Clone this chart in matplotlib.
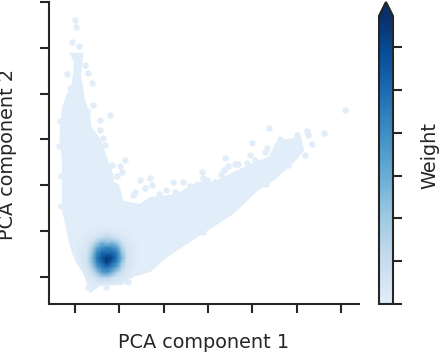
import numpy as np
import matplotlib
matplotlib.use("Agg")
import matplotlib.pyplot as plt
from matplotlib.colors import LinearSegmentedColormap, Normalize
from matplotlib.cm import ScalarMappable
from matplotlib.patches import Polygon

# Outline of the low-weight region, in PCA units
region_x = [.34,.56,1.06,1.31,1.69,2.08,2.60,3.05,3.57,4.11,4.47,4.92,5.15,5.08,4.79,4.56,4.40,3.88,3.50,3.12,2.75,2.30,1.69,1.47,1.08,.97,.86,.84,.68,.56,.34,.32,.20,.18,.11,.16,-.09,0,-.02,-.07,-.16,-.27,-.32,-.32,-.27,-.27,-.27,-.16,-.09,.02,.23,.29]
region_y = [-.33,-.17,-.15,.02,.13,.46,.79,1.07,1.40,1.90,2.12,2.51,2.77,3.03,2.99,2.93,2.62,2.40,2.23,2.05,2.05,1.79,1.72,1.57,1.64,2.01,2.05,2.23,2.66,2.99,3.28,3.54,3.86,4.0,4.41,4.87,4.87,4.69,4.41,4.13,4.0,3.69,3.28,2.99,2.55,2.01,1.46,.98,.66,.37,.04,-.13]

# Isolated low-weight bins and bumps on the edge of the region
outlier_x = [0,.02,-.07,.09,-.18,.29,.38,-.11,.79,.56,.41,.56,.63,.68,.84,1.13,1.06,1.47,1.69,1.74,2.21,2.44,1.58,1.35,2.26,6.09,4.38,5.62,5.24,5.26,5.01,5.35,5.19,4.0,4.33,4.29,3.95,3.39,3.68,3.45,3.36,2.87,2.98,4.81,3.88,3.16,
             .22,.10,-.33,-.36,-.32,-.31,.27,.37,.95,1.02,1.30,1.90,2.05,2.60,2.90,3.30,3.62,4.06,4.62,4.95,2.90,3.45,4.30,.30,.70,1.20]
outlier_y = [5.61,5.46,5.13,5.04,4.43,4.45,4.24,4.13,3.54,3.43,3.76,3.21,3.03,2.88,2.45,2.55,2.29,2.12,2.16,2.01,2.07,2.07,1.94,1.86,1.86,3.65,3.25,3.14,3.19,3.10,3.10,2.90,2.66,2.93,2.82,2.73,2.66,2.60,2.47,2.42,2.34,2.29,2.12,2.45,2.49,2.07,
             4.62,4.78,3.40,2.85,2.20,1.55,3.62,3.10,2.20,2.42,1.78,1.82,1.90,1.98,2.16,2.24,2.46,2.55,3.02,2.92,.98,1.42,2.02,-.22,-.22,-.12]

# Weight around the dense core
blob_x = [.05,.16,.27,.38,.50,.61,.72,.84,.95,1.06,1.17,1.29,1.40]
blob_y = [1.07,.96,.85,.74,.63,.52,.41,.31,.20,.09,-.02,-.13,-.24]
blob_w = [
 [0,0,0,.01,.01,.02,.02,.02,.01,.01,0,0,0],
 [0,.01,.01,.02,.03,.05,.06,.05,.03,.02,.01,.01,0],
 [.01,.01,.03,.05,.10,.16,.20,.15,.09,.05,.03,.01,0],
 [.01,.02,.05,.12,.28,.42,.34,.40,.30,.12,.05,.02,.01],
 [.01,.03,.07,.20,.48,.58,.66,.60,.50,.24,.07,.03,.01],
 [.01,.04,.08,.30,.62,.76,.74,.76,.66,.32,.08,.03,.01],
 [.01,.04,.09,.36,.68,.84,.98,.88,.68,.40,.09,.03,.01],
 [.01,.04,.08,.32,.64,.76,.94,.74,.62,.30,.08,.03,.01],
 [.01,.03,.07,.22,.50,.64,.70,.60,.44,.20,.06,.02,.01],
 [0,.02,.05,.12,.30,.50,.54,.40,.22,.10,.04,.01,0],
 [0,.01,.03,.06,.12,.18,.18,.12,.07,.04,.02,0,0],
 [0,0,.01,.02,.04,.05,.05,.04,.02,.01,.01,0,0],
 [0,0,0,0,.01,.01,.01,.01,0,0,0,0,0],
]

x_ticks = [0, 1, 2, 3, 4, 5, 6]
y_ticks = [0, 1, 2, 3, 4, 5, 6]
cbar_ticks = [0, .149, .298, .446, .595, .744, .893]

INK = "#262626"
W, H = 442, 352
plt.rcParams["font.family"] = "DejaVu Sans"
base = plt.get_cmap("Blues")
cmap = LinearSegmentedColormap.from_list("b", base(np.linspace(.11, 1, 256)))
norm = Normalize(0, 1)
light = cmap(0.0)

fig = plt.figure(figsize=(W/100, H/100), dpi=100)
ax = fig.add_axes([49/W, (H-304)/H, 310/W, 302/H])
poly = Polygon(np.column_stack([region_x, region_y]), closed=True, fc=light, ec=light, lw=1.5, zorder=1)
ax.add_patch(poly)
ax.scatter(outlier_x, outlier_y, s=26, marker="h", color=light, lw=0, zorder=1)
mesh = ax.pcolormesh(blob_x, blob_y, np.array(blob_w), cmap=cmap, norm=norm, shading="gouraud", zorder=2)
mesh.set_clip_path(poly)

ax.set_xlim(-.587, 6.41)
ax.set_ylim(-.59, 6.0)
ax.set_xticks(x_ticks)
ax.set_yticks(y_ticks)
ax.set_xticklabels([])
ax.set_yticklabels([])
for s in ("top", "right"):
    ax.spines[s].set_visible(False)
for s in ("left", "bottom"):
    ax.spines[s].set_linewidth(1.5)
    ax.spines[s].set_color(INK)
ax.tick_params(length=6.5, width=1.5, color=INK)
fig.text(204/W, 1-342/H, "PCA component 1", fontsize=13.9, color=INK, ha="center", va="center")
fig.text(8/W, 1-154/H, "PCA component 2", fontsize=13.9, color=INK, ha="center", va="center", rotation=90)

cax = fig.add_axes([379/W, (H-304)/H, 14/W, 302/H])
cb = fig.colorbar(ScalarMappable(norm=norm, cmap=cmap), cax=cax, extend="max", extendfrac=.0486)
cb.set_ticks(cbar_ticks)
cb.set_ticklabels([])
cb.ax.tick_params(length=6.5, width=1.5, color=INK)
cb.outline.set_linewidth(1.5)
cb.outline.set_edgecolor(INK)
fig.text(430/W, 1-155/H, "Weight", fontsize=13.9, color=INK, ha="center", va="center", rotation=90)

fig.savefig("out.png", dpi=100)
